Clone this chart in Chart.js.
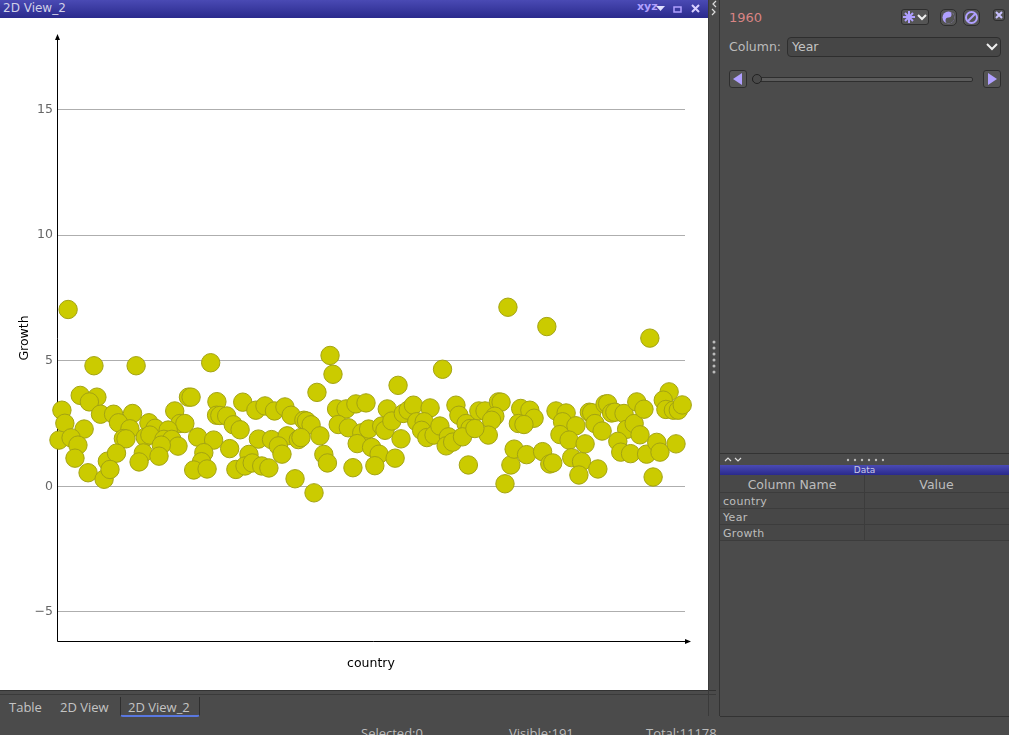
<!DOCTYPE html>
<html>
<head>
<meta charset="utf-8">
<title>2D View_2</title>
<script src="https://cdn.jsdelivr.net/npm/chart.js@4"></script>
<style>
  html, body { margin: 0; padding: 0; }
  body { width: 1009px; height: 735px; overflow: hidden; position: relative; background: #4b4b4b; font-family: "DejaVu Sans", sans-serif; color: #c4c4c4; }
  .abs { position: absolute; white-space: nowrap; }
  .titlebar { background: linear-gradient(#4a4ab4, #2a2a8c); }
  #plot { position: absolute; left: 0; top: 18px; width: 708px; height: 672px; background: #fff; }
  .btn { position: absolute; box-sizing: border-box; border: 1px solid #2e2e2e; border-radius: 3px; background: #555; }
  .row { position: absolute; left: 720px; width: 289px; height: 16px; box-sizing: border-box; border-bottom: 1px solid #3c3c3c; background: #474747; font-size: 11px; line-height: 18px; padding-left: 3px; color: #bdbdbd; letter-spacing: 0.3px; }
</style>
</head>
<body>
  <!-- left window -->
  <div class="abs titlebar" style="left:0;top:0;width:708px;height:18px"></div>
  <div class="abs" style="left:3px;top:1px;font-size:12px;color:#d0d0e8">2D View_2</div>
  <div class="abs" style="left:637px;top:0;font-size:11px;font-weight:bold;color:#b0a0ff">xyz</div>
  <svg class="abs" style="left:656px;top:4px" width="50" height="12">
    <path d="M0 2h9l-4.500 5z" fill="#e0e0ff"/>
    <rect x="18" y="3" width="7" height="5" fill="none" stroke="#b0a0ff" stroke-width="1.500"/>
    <path d="M36 1l7 7M43 1l-7 7" stroke="#d8d0ff" stroke-width="2"/>
  </svg>
  <div id="plot"><canvas id="scatterChart" width="708" height="672"></canvas></div>
  <div class="abs" style="left:0;top:690px;width:716px;height:1px;background:#333"></div>
  <div class="abs" style="left:0;top:694px;width:716px;height:1px;background:#3a3a3a"></div>

  <!-- split bar -->
  <div class="abs" style="left:708px;top:0;width:1px;height:716px;background:#3a3a3a"></div>
  <div class="abs" style="left:719px;top:0;width:1px;height:716px;background:#333"></div>
  <svg class="abs" style="left:709px;top:0" width="10" height="380">
    <path d="M7 1l-3 3 3 3M3 9l3 3-3 3" fill="none" stroke="#ddd" stroke-width="1.200"/>
    <g fill="#bbb"><circle cx="5" cy="342" r="1.500"/><circle cx="5" cy="348" r="1.500"/><circle cx="5" cy="354" r="1.500"/><circle cx="5" cy="360" r="1.500"/><circle cx="5" cy="366" r="1.500"/><circle cx="5" cy="372" r="1.500"/></g>
  </svg>

  <!-- slider panel -->
  <div class="abs" style="left:720px;top:453px;width:289px;height:1px;background:#333"></div>
  <div class="abs" style="left:729px;top:10px;font-size:13px;color:#d98484">1960</div>
  <div class="btn" style="left:901px;top:9px;width:28px;height:16px"></div>
  <svg class="abs" style="left:901px;top:9px" width="28" height="16">
    <path d="M8 2v12M2 8h12M4 4l8 8M12 4l-8 8" stroke="#b0a0ff" stroke-width="2"/>
    <path d="M17 6l4 4 4-4" fill="none" stroke="#eee" stroke-width="2"/>
  </svg>
  <div class="btn" style="left:940px;top:9px;width:17px;height:17px;border-radius:5px"></div>
  <svg class="abs" style="left:940px;top:9px" width="40" height="17">
    <circle cx="8.500" cy="8.500" r="6" fill="#b0a0ff"/><path d="M8.500 2.500a3 3 0 0 1 0 6a3 3 0 0 0 0 6a6 6 0 0 0 0-12z" fill="#555"/>
  </svg>
  <div class="btn" style="left:963px;top:9px;width:17px;height:17px;border-radius:5px"></div>
  <svg class="abs" style="left:963px;top:9px" width="17" height="17">
    <circle cx="8.500" cy="8.500" r="5.500" fill="none" stroke="#b0a0ff" stroke-width="2"/><path d="M5 12l7-7" stroke="#b0a0ff" stroke-width="2"/>
  </svg>
  <div class="btn" style="left:993px;top:9px;width:12px;height:12px"></div>
  <svg class="abs" style="left:993px;top:9px" width="12" height="12"><path d="M3 3l6 6M9 3l-6 6" stroke="#c8c0ff" stroke-width="2"/></svg>

  <div class="abs" style="left:729px;top:39px;font-size:12.500px;color:#bcbcbc">Column:</div>
  <div class="btn" style="left:787px;top:37px;width:214px;height:20px;background:#464646;border-radius:4px;font-size:12.500px;line-height:18px;padding-left:4px;color:#c4c4c4">Year</div>
  <svg class="abs" style="left:986px;top:42px" width="12" height="10"><path d="M1 2l5 5 5-5" fill="none" stroke="#eee" stroke-width="2"/></svg>

  <div class="btn" style="left:729px;top:70px;width:18px;height:18px"></div>
  <svg class="abs" style="left:729px;top:70px" width="18" height="18"><path d="M13 3v12l-9-6z" fill="#b0a0ff"/></svg>
  <div class="abs" style="left:752px;top:77px;width:219px;height:3px;background:#5c5c5c;border:1px solid #2e2e2e;border-radius:2px"></div>
  <div class="abs" style="left:752px;top:74px;width:8px;height:8px;background:#4a4a4a;border:1px solid #222;border-radius:50%"></div>
  <div class="btn" style="left:983px;top:70px;width:18px;height:18px"></div>
  <svg class="abs" style="left:983px;top:70px" width="18" height="18"><path d="M5 3v12l9-6z" fill="#b0a0ff"/></svg>

  <!-- data panel -->
  <svg class="abs" style="left:724px;top:456px" width="160" height="8">
    <path d="M1 5l3-3 3 3M11 2l3 3 3-3" fill="none" stroke="#ddd" stroke-width="1.200"/>
    <g fill="#bbb"><circle cx="124" cy="4" r="1.200"/><circle cx="131" cy="4" r="1.200"/><circle cx="138" cy="4" r="1.200"/><circle cx="145" cy="4" r="1.200"/><circle cx="152" cy="4" r="1.200"/><circle cx="159" cy="4" r="1.200"/></g>
  </svg>
  <div class="abs titlebar" style="left:720px;top:465px;width:289px;height:10px;font-size:9px;line-height:10px;text-align:center;color:#c8c8e8">Data</div>
  <div class="abs" style="left:720px;top:475px;width:289px;height:18px;background:#484848;border-bottom:1px solid #3c3c3c;box-sizing:border-box"></div>
  <div class="abs" style="left:720px;top:477px;width:144px;font-size:12.500px;text-align:center;color:#bdbdbd">Column Name</div>
  <div class="abs" style="left:864px;top:477px;width:145px;font-size:12.500px;text-align:center;color:#bdbdbd">Value</div>
  <div class="row" style="top:493px">country</div>
  <div class="row" style="top:509px">Year</div>
  <div class="row" style="top:525px">Growth</div>
  <div class="abs" style="left:864px;top:475px;width:1px;height:66px;background:#3c3c3c"></div>
  <div class="abs" style="left:720px;top:716px;width:289px;height:1px;background:#333"></div>

  <!-- tabs and status -->
  <div class="abs" style="left:120px;top:697px;width:78px;height:18px;border-left:1px solid #2e2e2e;border-right:1px solid #2e2e2e;border-bottom:2px solid #5a78e0;border-radius:0 0 3px 3px"></div>
  <div class="abs" style="left:9px;top:698px;font-size:13px;font-family:'Open Sans'">Table</div>
  <div class="abs" style="left:60px;top:698px;font-size:13px;font-family:'Open Sans'">2D View</div>
  <div class="abs" style="left:128px;top:698px;font-size:13px;font-family:'Open Sans'">2D View_2</div>
  <div class="abs" style="left:361px;top:724px;font-size:13px;font-family:'Open Sans';color:#bbb">Selected:0</div>
  <div class="abs" style="left:509px;top:724px;font-size:13px;font-family:'Open Sans';color:#bbb">Visible:191</div>
  <div class="abs" style="left:646px;top:724px;font-size:13px;font-family:'Open Sans';color:#bbb">Total:11178</div>

<script>
  const xTitle = "country";
  const yTitle = "Growth";
  const yTicks = [-5, 0, 5, 10, 15];

  // country position on the (unlabelled) x axis
  const countryIndex = [
    3.1, 11.0, 23.9, 46.7, 6.8, 11.9, 9.6, 39.9, 40.7, 48.6, 1.2, 13.0, 17.0, 22.8, 35.7, 2.1, 18.5, 27.8,
    48.5, 49.5, 51.6, 53.6, 37.3, 38.8, 8.0, 22.0, 29.7, 33.7, 20.0, 20.8, 0.3, 4.0, 6.1, 26.7, 28.1, 32.4,
    34.8, 36.7, 42.7, 47.6, 31.6, 5.2, 15.1, 17.9, 26.1, 24.8, 30.9, 44.6, 43.9, 52.5, 9.2, 14.1, 15.9, 41.5,
    45.6, 54.4,
    83.2, 84.1, 117.6, 79.2, 104.0, 56.5, 60.5, 63.3, 66.2, 69.4, 71.3, 75.2, 76.0, 77.4, 85.2, 88.1, 91.1, 94.2,
    100.7, 85.7, 88.8, 92.9, 95.0, 99.0, 100.0, 102.1, 105.6, 107.1, 108.7, 113.8, 109.7, 112.0, 111.2, 112.8,
    115.0, 116.8, 119.4, 118.7, 120.7, 121.7, 122.6, 124.8, 126.0, 123.7, 55.7, 61.3, 65.3, 70.1, 67.4, 73.5,
    74.3, 80.1, 91.5, 95.9, 104.9, 68.5, 58.4, 81.3, 82.4, 98.2, 103.1, 57.2, 59.4, 62.3, 64.5, 90.2, 96.9, 125.5,
    72.5, 78.3,
    137.6, 149.5, 181.0, 186.9, 128.7, 130.6, 134.7, 135.5, 133.6, 132.6, 131.6, 127.5, 136.7, 138.5, 139.5, 143.3,
    141.5, 144.3, 145.6, 140.8, 142.5, 148.2, 150.4, 151.3, 152.3, 155.4, 154.3, 158.4, 153.5, 156.3, 161.2, 157.1,
    160.1, 159.3, 165.1, 162.5, 163.2, 164.2, 166.4, 167.3, 168.1, 169.3, 170.3, 173.1, 173.9, 176.2, 178.0, 177.0,
    179.2, 171.2, 172.1, 175.1, 180.0, 183.1, 184.1, 189.0, 182.0, 185.1, 185.9, 188.2, 189.7, 190.9
  ];

  const growth = [
    7.04, 4.8, 4.8, 4.92, 3.62, 3.55, 3.36, 3.55, 3.55, 3.37, 3.03, 2.87, 2.87, 2.9, 3.0, 2.51, 2.53, 2.53,
    2.83, 2.82, 2.8, 2.45, 2.5, 2.5, 2.28, 2.29, 2.31, 2.24, 1.9, 1.89, 1.84, 1.93, 1.64, 1.95, 2.04, 1.87,
    1.87, 1.6, 1.96, 1.84, 1.64, 1.12, 1.0, 1.32, 1.33, 0.97, 1.2, 1.34, 0.98, 1.5, 0.54, 0.28, 0.67, 0.65,
    0.69, 0.67,
    5.21, 4.46, 4.66, 3.74, 4.02, 3.35, 3.03, 3.2, 3.0, 3.16, 2.83, 2.63, 2.6, 2.45, 3.08, 3.08, 3.28, 3.32,
    3.08, 2.46, 2.33, 2.13, 2.28, 2.4, 2.23, 2.6, 2.9, 3.03, 3.23, 3.12, 2.57, 2.57, 2.23, 1.94,
    2.04, 2.4, 1.97, 1.61, 1.76, 3.23, 2.83, 2.5, 2.3, 1.97, 2.25, 1.88, 1.86, 2.01, 1.61, 1.86,
    1.94, 2.01, 1.7, 1.55, 1.89, 1.28, 1.27, 1.27, 0.93, 1.28, 1.12, 0.81, 0.93, 0.81, 0.73, 0.74, 0.82, 0.85,
    0.3, -0.26,
    7.13, 6.36, 5.9, 3.76, 3.0, 3.0, 3.36, 3.35, 2.79, 2.63, 2.04, 2.3, 0.1, 0.85, 1.48, 1.26,
    3.1, 3.03, 2.71, 2.5, 2.46, 1.38, 0.89, 0.93, 3.0, 2.92, 2.57, 2.41, 2.06, 1.84, 1.69, 1.14,
    0.98, 0.45, 0.69, 2.95, 2.93, 2.5, 2.2, 3.27, 3.29, 2.92, 2.95, 2.9, 2.27, 2.5, 2.05, 3.36,
    3.07, 1.79, 1.36, 1.3, 1.28, 1.75, 1.36, 1.69, 0.37, 3.43, 3.06, 3.03, 3.03, 3.24
  ];

  // axis lines with small arrow heads, these run a bit past the plot area
  const axisArrows = {
    id: "axisArrows",
    beforeDatasetsDraw(chart) {
      const { ctx, chartArea } = chart;
      const x0 = chartArea.left + 0.5;
      const y0 = chartArea.bottom + 0.5;
      const endX = chartArea.right + 5;
      const endY = chartArea.top;
      ctx.save();
      ctx.strokeStyle = "#000";
      ctx.fillStyle = "#000";
      ctx.lineWidth = 1;
      ctx.beginPath();
      ctx.moveTo(x0, y0);
      ctx.lineTo(x0, endY);
      ctx.moveTo(x0, y0);
      ctx.lineTo(endX, y0);
      ctx.stroke();
      ctx.beginPath();
      ctx.moveTo(x0, endY - 1);
      ctx.lineTo(x0 - 2.5, endY + 5);
      ctx.lineTo(x0 + 2.5, endY + 5);
      ctx.fill();
      ctx.beginPath();
      ctx.moveTo(endX + 1, y0);
      ctx.lineTo(endX - 5, y0 - 2.5);
      ctx.lineTo(endX - 5, y0 + 2.5);
      ctx.fill();
      ctx.restore();
    },
  };

  new Chart(document.getElementById("scatterChart"), {
    type: "scatter",
    data: {
      datasets: [
        {
          data: countryIndex.map((c, i) => ({ x: c, y: growth[i] })),
          backgroundColor: "#cbcb00",
          borderColor: "#a3a312",
          borderWidth: 1,
          pointRadius: 9.2,
          pointHoverRadius: 9.2,
          clip: false,
        },
      ],
    },
    options: {
      responsive: false,
      animation: false,
      devicePixelRatio: 1,
      layout: { padding: { top: 17, right: 23, left: 0, bottom: 0 } },
      plugins: { legend: { display: false }, tooltip: { enabled: false } },
      scales: {
        x: {
          type: "linear",
          min: -0.3,
          max: 191.75,
          afterFit: (scale) => { scale.height = 49; },
          grid: { display: false },
          border: { display: false },
          ticks: { display: false },
          title: {
            display: true,
            text: xTitle,
            color: "#000",
            font: { family: "DejaVu Sans", size: 12.5 },
            padding: { top: 0, bottom: 19 },
          },
        },
        y: {
          type: "linear",
          min: -6.16,
          max: 17.97,
          afterFit: (scale) => { scale.width = 57; },
          afterBuildTicks: (scale) => { scale.ticks = yTicks.map((v) => ({ value: v })); },
          grid: { color: "#aeaeae", lineWidth: 1, drawTicks: false },
          border: { display: false },
          ticks: {
            color: "#666",
            padding: 4,
            font: { family: "DejaVu Sans", size: 12.5 },
            callback: (v) => (v < 0 ? "\u2212" + Math.abs(v) : v),
          },
          title: {
            display: true,
            text: yTitle,
            color: "#000",
            font: { family: "DejaVu Sans", size: 12.5 },
            padding: { top: 17, bottom: 0 },
          },
        },
      },
    },
    plugins: [axisArrows],
  });
</script>
</body>
</html>
